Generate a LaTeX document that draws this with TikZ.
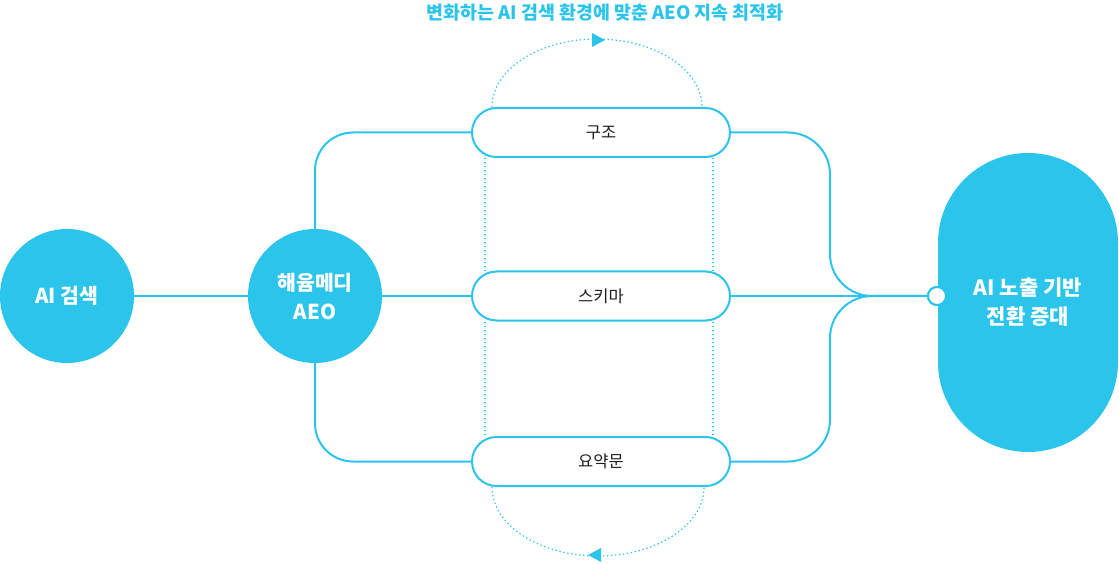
\documentclass[tikz,border=0pt]{standalone}
\usepackage{fontspec}
\setmainfont{Noto Sans CJK KR}
\usetikzlibrary{calc,arrows.meta}
\definecolor{cy}{RGB}{43,196,235}
\definecolor{ink}{RGB}{30,30,30}
\pgfdeclarelayer{bg}
\pgfsetlayers{bg,main}
\begin{document}
\begin{tikzpicture}[x=1pt,y=1pt,
  conn/.style={draw=cy, line width=2pt},
  loopline/.style={draw=cy, line width=1.2pt, dash pattern=on 1.4pt off 2.6pt},
  bigc/.style={circle, fill=cy, minimum size=134pt, inner sep=0pt, text=white,
    font=\fontsize{20.5}{29}\selectfont\bfseries, align=center},
  pill/.style={draw=cy, line width=2pt, fill=white, rounded corners=24.5pt,
    minimum width=258pt, minimum height=49pt, inner sep=0pt,
    font=\fontsize{16.5}{20}\selectfont, text=ink},
  dotnode/.style={circle, draw=cy, line width=2pt, fill=white, minimum size=18pt, inner sep=0pt},
  goal/.style={fill=cy, rounded corners=89.9pt, minimum width=180pt, minimum height=299pt,
    inner sep=0pt, text=white, font=\fontsize{21}{29}\selectfont\bfseries, align=center},
  title/.style={text=cy, font=\fontsize{18.4}{22}\selectfont\bfseries}
]
\useasboundingbox (0,0) rectangle (1119,563);

\node[title] (tt) at (605,550) {변화하는 AI 검색 환경에 맞춘 AEO 지속 최적화};

\node[bigc] (ai) at (67,267) {AI 검색};
\node[bigc] (hy) at (315,267) {해윰메디\\AEO};

\node[pill] (gj) at (601,430.5) {구조};
\node[pill] (sc) at (601,267) {스키마};
\node[pill] (yy) at (601,101.5) {요약문};

\node[goal] (rp) at (1028,260.5) {AI 노출 기반\\전환 증대};
\node[dotnode] (dt) at (937,267) {};
\coordinate (mx) at (830,267);

\begin{pgfonlayer}{bg}
  \draw[loopline] ($(gj.south west)+(14,0)$) -- ($(sc.north west)+(14,0)$);
  \draw[loopline] ($(sc.south west)+(14,0)$) -- ($(yy.north west)+(14,0)$);
  \draw[loopline] ($(gj.south east)+(-18,0)$) -- ($(sc.north east)+(-18,0)$);
  \draw[loopline] ($(sc.south east)+(-18,0)$) -- ($(yy.north east)+(-18,0)$);
  \draw[loopline] ($(gj.north west)+(21,0)$) arc[start angle=180, end angle=0, x radius=105, y radius=68];
  \draw[loopline] ($(yy.south west)+(21,0)$) arc[start angle=180, end angle=360, x radius=106, y radius=69];
\end{pgfonlayer}

% arrowheads of the loop
\fill[cy] (605,523) -- (592,530) -- (592,516) -- cycle;
\fill[cy] (588,8) -- (601,15) -- (601,1) -- cycle;

\draw[conn] (ai) -- (hy);
\draw[conn] (hy) -- (sc);
\draw[conn, rounded corners=38pt] (hy.north) |- (gj.west);
\draw[conn, rounded corners=38pt] (hy.south) |- (yy.west);
\draw[conn, rounded corners=42pt] (gj.east) -| (mx) -- (dt.west);
\draw[conn, rounded corners=42pt] (yy.east) -| (mx) -- (dt.west);
\draw[conn] (sc) -- (dt);
\node[dotnode] at (dt) {};
\end{tikzpicture}
\end{document}
